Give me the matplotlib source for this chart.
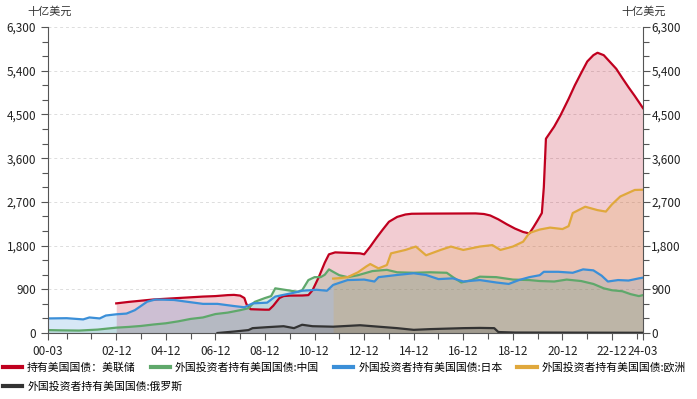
import matplotlib
matplotlib.use("Agg")
import matplotlib.pyplot as plt
import matplotlib.dates as mdates
from matplotlib.ticker import MultipleLocator, FuncFormatter
import pandas as pd

plt.rcParams['font.family'] = ['Noto Sans CJK SC', 'DejaVu Sans']

# 持有美国国债：美联储
fed_dates = ['2002-12', '2003-06', '2003-12', '2004-06', '2004-12', '2005-06', '2005-12', '2006-06',
             '2006-12', '2007-06', '2007-09', '2007-12', '2008-02', '2008-03', '2008-05', '2008-12',
             '2009-02', '2009-04', '2009-07', '2009-09', '2009-12', '2010-06', '2010-09', '2010-11',
             '2011-02', '2011-05', '2011-07', '2011-10', '2012-04', '2012-10', '2012-12', '2013-03',
             '2013-06', '2013-09', '2013-12', '2014-04', '2014-08', '2014-11', '2015-06', '2016-06',
             '2017-06', '2017-10', '2018-01', '2018-05', '2018-09', '2019-01', '2019-05', '2019-08',
             '2019-10', '2019-12', '2020-02', '2020-03', '2020-04', '2020-08', '2020-11', '2021-03',
             '2021-06', '2021-09', '2021-12', '2022-03', '2022-05', '2022-08', '2022-11', '2023-02',
             '2023-05', '2023-08', '2023-11', '2024-03']
fed_vals = [610, 640, 665, 690, 705, 720, 735, 750,
            760, 780, 785, 770, 720, 600, 490, 480,
            480, 560, 720, 760, 770, 772, 780, 880,
            1150, 1450, 1620, 1660, 1650, 1640, 1620, 1780,
            1960, 2130, 2290, 2390, 2440, 2455, 2458, 2460,
            2462, 2450, 2420, 2340, 2240, 2150, 2080, 2050,
            2180, 2320, 2470, 3000, 4000, 4250, 4480, 4820,
            5100, 5350, 5590, 5720, 5770, 5720, 5580, 5440,
            5250, 5060, 4880, 4630]

# 外国投资者持有美国国债:中国
cn_dates = ['2000-03', '2000-09', '2001-06', '2002-03', '2002-12', '2003-06', '2003-12', '2004-06',
            '2004-12', '2005-06', '2005-12', '2006-06', '2006-12', '2007-06', '2007-12', '2008-04',
            '2008-07', '2008-12', '2009-03', '2009-05', '2009-08', '2009-11', '2010-02', '2010-04',
            '2010-06', '2010-09', '2010-12', '2011-03', '2011-05', '2011-07', '2011-09', '2011-12',
            '2012-04', '2012-09', '2013-04', '2013-08', '2013-11', '2014-04', '2014-12', '2015-08',
            '2016-04', '2016-07', '2016-11', '2017-04', '2017-08', '2018-04', '2018-12', '2019-08',
            '2020-01', '2020-08', '2021-02', '2021-09', '2022-03', '2022-08', '2022-12', '2023-05',
            '2023-09', '2024-01', '2024-03']
cn_vals = [60, 55, 50, 70, 110, 125, 145, 175,
           200, 240, 290, 320, 390, 420, 470, 510,
           640, 720, 760, 920, 900, 880, 860, 850,
           880, 1090, 1150, 1150, 1200, 1310, 1260, 1190,
           1150, 1190, 1275, 1290, 1300, 1250, 1240, 1250,
           1240, 1150, 1040, 1090, 1160, 1150, 1100, 1090,
           1070, 1060, 1100, 1070, 1010, 920, 880, 860,
           800, 760, 780]

# 外国投资者持有美国国债:日本
jp_dates = ['2000-03', '2000-12', '2001-08', '2001-11', '2002-04', '2002-07', '2002-12', '2003-05',
            '2003-09', '2004-03', '2004-07', '2005-04', '2005-10', '2006-06', '2007-01', '2007-09',
            '2008-02', '2008-06', '2009-01', '2009-05', '2010-01', '2010-06', '2011-01', '2011-06',
            '2011-09', '2012-04', '2012-12', '2013-05', '2013-07', '2014-04', '2014-12', '2015-06',
            '2015-12', '2016-07', '2016-12', '2017-08', '2018-04', '2018-10', '2019-03', '2019-08',
            '2020-01', '2020-03', '2020-10', '2021-05', '2021-10', '2022-03', '2022-07', '2022-10',
            '2023-03', '2023-08', '2024-01', '2024-03']
jp_vals = [300, 305, 280, 320, 300, 360, 385, 400,
           470, 645, 690, 680, 645, 600, 600, 555,
           530, 610, 625, 750, 820, 870, 890, 870,
           990, 1090, 1100, 1060, 1150, 1195, 1230, 1195,
           1110, 1125, 1060, 1090, 1040, 1010, 1090, 1150,
           1190, 1260, 1260, 1240, 1310, 1290, 1180, 1060,
           1090, 1080, 1125, 1140]

# 外国投资者持有美国国债:欧洲
eu_dates = ['2011-09', '2011-12', '2012-04', '2012-09', '2013-01', '2013-03', '2013-07', '2013-11',
            '2014-01', '2014-08', '2015-01', '2015-06', '2016-01', '2016-06', '2016-12', '2017-08',
            '2018-02', '2018-06', '2018-12', '2019-05', '2019-08', '2020-01', '2020-06', '2020-12',
            '2021-03', '2021-05', '2021-11', '2022-05', '2022-09', '2022-12', '2023-04', '2023-11',
            '2024-03']
eu_vals = [1120, 1130, 1150, 1250, 1370, 1420, 1330, 1400,
           1640, 1710, 1780, 1600, 1710, 1780, 1710, 1780,
           1810, 1710, 1780, 1880, 2060, 2130, 2170, 2140,
           2200, 2470, 2600, 2530, 2500, 2650, 2810, 2945,
           2950]

# 外国投资者持有美国国债:俄罗斯
ru_dates = ['2007-01', '2007-09', '2008-04', '2008-06', '2009-01', '2009-09', '2010-02', '2010-06',
            '2010-11', '2011-09', '2012-10', '2013-07', '2014-04', '2014-12', '2015-08', '2016-12',
            '2017-08', '2018-03', '2018-05', '2019-01', '2024-03']
ru_vals = [0, 30, 60, 100, 120, 140, 100, 170,
           140, 130, 160, 130, 100, 65, 80, 100,
           105, 100, 20, 10, 5]

series = [
    ('持有美国国债：美联储', fed_dates, fed_vals, '#c0001f'),
    ('外国投资者持有美国国债:中国', cn_dates, cn_vals, '#5fa86b'),
    ('外国投资者持有美国国债:日本', jp_dates, jp_vals, '#3b8fd8'),
    ('外国投资者持有美国国债:欧洲', eu_dates, eu_vals, '#e0a83c'),
    ('外国投资者持有美国国债:俄罗斯', ru_dates, ru_vals, '#333333'),
]

fig = plt.figure(figsize=(6.97, 3.99), dpi=100)
ax = fig.add_axes([0.0689, 0.1654, 0.8536, 0.7669])

handles = []
for name, d, v, col in series:
    t = pd.to_datetime(d)
    ax.fill_between(t, 0, v, color=col, alpha=0.2, linewidth=0)
    h, = ax.plot(t, v, color=col, lw=1.6, label=name, solid_joinstyle='round')
    handles.append(h)

ax.set_xlim(pd.Timestamp('2000-03-01'), pd.Timestamp('2024-03-01'))
ax.set_ylim(0, 6300)

ax.yaxis.set_major_locator(MultipleLocator(900))
ax.yaxis.set_minor_locator(MultipleLocator(300))
ax.yaxis.set_major_formatter(FuncFormatter(lambda v, p: f'{int(v):,}'))

major = [pd.Timestamp('2000-03-01')] + [pd.Timestamp(f'{y}-12-01') for y in range(2002, 2023, 2)] + [pd.Timestamp('2024-03-01')]
minor = [pd.Timestamp(f'{y}-12-01') for y in range(2000, 2024)]
ax.set_xticks(major)
ax.set_xticks(minor, minor=True)
ax.xaxis.set_major_formatter(mdates.DateFormatter('%y-%m'))

ax.grid(axis='y', which='major', color='#dddddd', ls=(0, (3, 3)), lw=0.7)
ax.set_axisbelow(True)

for s in ['top', 'right']:
    ax.spines[s].set_visible(False)
ax.spines['left'].set_color('#555555')
ax.spines['bottom'].set_color('#555555')
ax.tick_params(which='both', colors='#555555', labelcolor='#222222', labelsize=8.5, width=0.8)
ax.tick_params(which='major', length=5)
ax.tick_params(which='minor', length=4)

ax2 = ax.twinx()
ax2.set_ylim(0, 6300)
ax2.yaxis.set_major_locator(MultipleLocator(900))
ax2.yaxis.set_minor_locator(MultipleLocator(300))
ax2.yaxis.set_major_formatter(FuncFormatter(lambda v, p: f'{int(v):,}'))
for s in ['top', 'left', 'bottom']:
    ax2.spines[s].set_visible(False)
ax2.spines['right'].set_color('#555555')
ax2.tick_params(which='both', colors='#555555', labelcolor='#222222', labelsize=8.5, width=0.8)
ax2.tick_params(which='major', length=5, pad=1)
ax2.tick_params(which='minor', length=4)

fig.text(0.039, 0.972, '十亿美元', fontsize=8, color='#333333', va='center')
fig.text(0.891, 0.972, '十亿美元', fontsize=8, color='#333333', va='center')

legkw = dict(frameon=False, fontsize=7.8, handlelength=1.8, handletextpad=0.45,
             columnspacing=1.35, borderaxespad=0, borderpad=0)
row1 = handles[:4]
leg1 = fig.legend(row1, [h.get_label() for h in row1], ncol=4, loc='center left',
                  bbox_to_anchor=(0.004, 0.078), **legkw)
leg2 = fig.legend([handles[4]], [handles[4].get_label()], ncol=1, loc='center left',
                  bbox_to_anchor=(0.004, 0.030), **legkw)
for lg in (leg1, leg2):
    for line in lg.get_lines():
        line.set_linewidth(3)

fig.savefig('out.png', dpi=100)
